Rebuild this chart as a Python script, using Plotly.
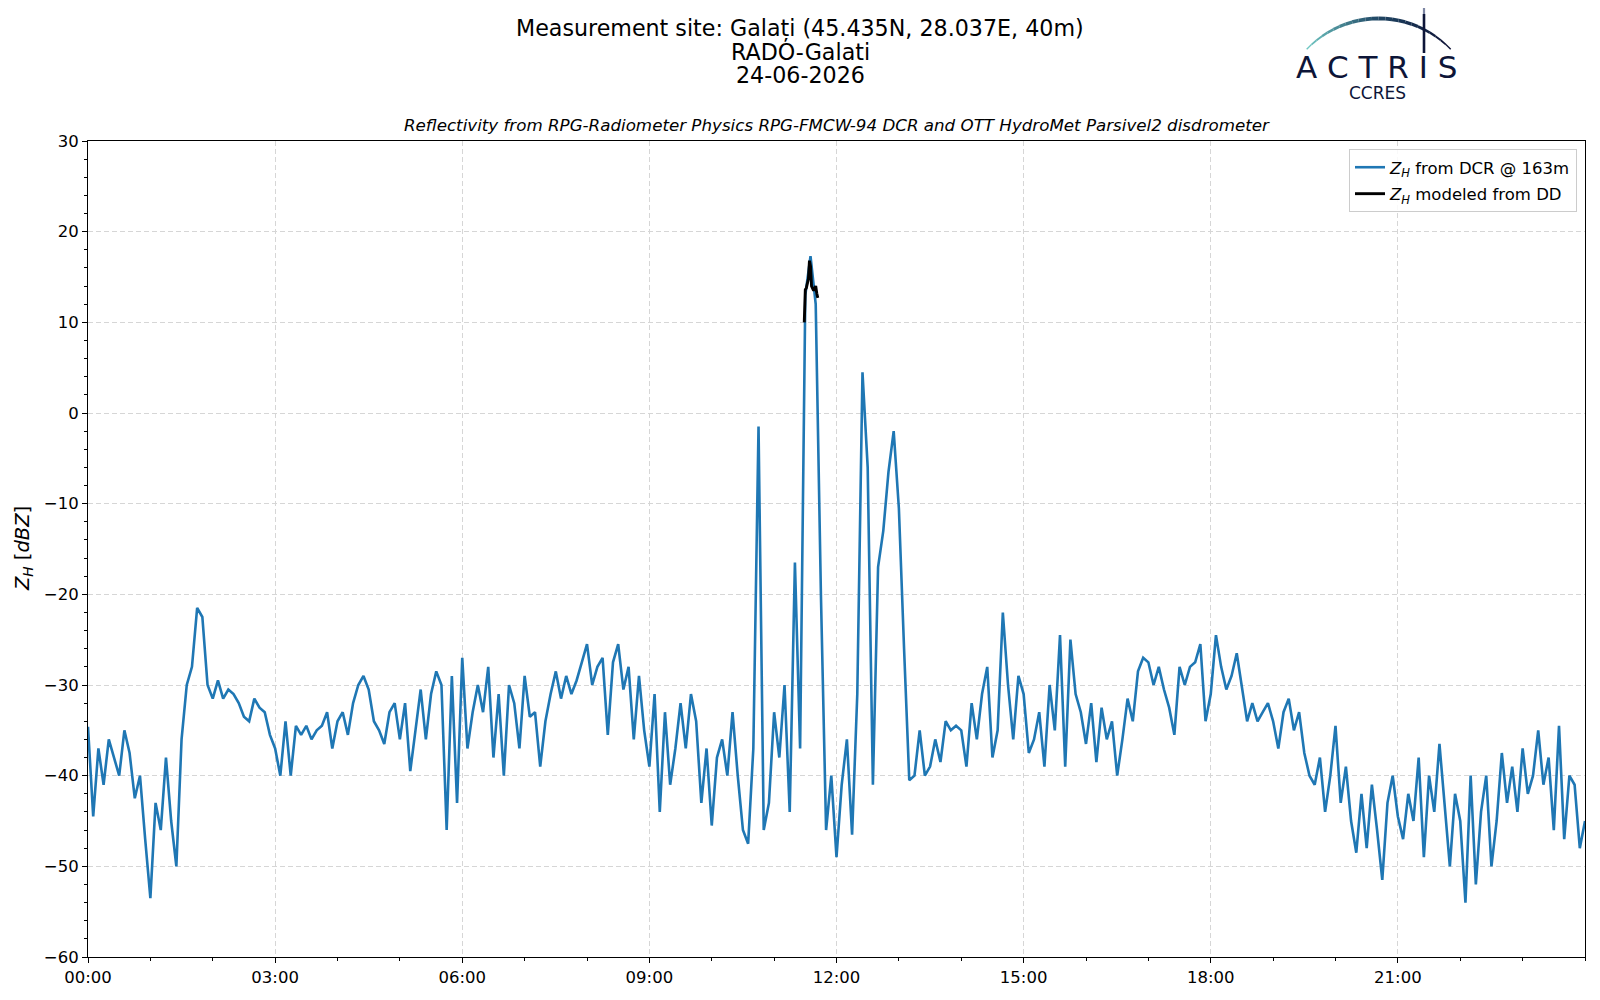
import numpy as np
import plotly.graph_objects as go

# Z_H from the DCR at 163 m, one value every 5 minutes, dBZ
dcr_00_03 = [-34.6, -44.5, -37.0, -41.0, -36.0, -38.0, -40.0, -35.0, -37.5, -42.5, -40.0, -47.0,
             -53.5, -43.0, -46.0, -38.0, -45.0, -50.0, -36.0, -30.0, -28.0, -21.5, -22.5, -30.0,
             -31.5, -29.5, -31.5, -30.5, -31.0, -32.0, -33.5, -34.0, -31.5, -32.5, -33.0, -35.5]
dcr_03_06 = [-37.0, -40.0, -34.0, -40.0, -34.5, -35.5, -34.5, -36.0, -35.0, -34.5, -33.0, -37.0,
             -34.0, -33.0, -35.5, -32.0, -30.0, -29.0, -30.5, -34.0, -35.0, -36.5, -33.0, -32.0,
             -36.0, -32.0, -39.5, -35.0, -30.5, -36.0, -31.0, -28.5, -30.0, -46.0, -29.0, -43.0]
dcr_06_09 = [-27.0, -37.0, -33.0, -30.0, -33.0, -28.0, -38.0, -31.0, -40.0, -30.0, -32.0, -37.0,
             -29.0, -33.5, -33.0, -39.0, -34.0, -31.0, -28.5, -31.5, -29.0, -31.0, -29.5, -27.5,
             -25.5, -30.0, -28.0, -27.0, -35.5, -27.5, -25.5, -30.5, -28.0, -36.0, -29.0, -35.0]
dcr_09_12 = [-39.0, -31.0, -44.0, -33.0, -41.0, -37.0, -32.0, -37.0, -31.0, -34.0, -43.0, -37.0,
             -45.5, -38.0, -36.0, -40.0, -33.0, -40.0, -46.0, -47.5, -37.0, -1.5, -46.0, -43.0,
             -33.0, -38.0, -30.0, -44.0, -16.5, -37.0, 13.0, 17.3, 12.0, -20.0, -46.0, -40.0]
dcr_12_15 = [-49.0, -41.0, -36.0, -46.5, -31.0, 4.5, -6.0, -41.0, -17.0, -13.0, -6.5, -2.0,
             -10.5, -26.0, -40.5, -40.0, -35.0, -40.0, -39.0, -36.0, -38.5, -34.0, -35.0, -34.5,
             -35.0, -39.0, -32.0, -36.0, -31.0, -28.0, -38.0, -35.0, -22.0, -30.0, -36.0, -29.0]
dcr_15_18 = [-31.0, -37.5, -36.0, -33.0, -39.0, -30.0, -35.0, -24.5, -39.0, -25.0, -31.0, -33.0,
             -36.5, -32.0, -38.5, -32.5, -36.0, -34.0, -40.0, -36.0, -31.5, -34.0, -28.5, -27.0,
             -27.5, -30.0, -28.0, -30.5, -32.5, -35.5, -28.0, -30.0, -28.0, -27.5, -25.5, -34.0]
dcr_18_21 = [-31.0, -24.5, -28.0, -30.5, -29.0, -26.5, -30.0, -34.0, -32.0, -34.0, -33.0, -32.0,
             -34.0, -37.0, -33.0, -31.5, -35.0, -33.0, -37.5, -40.0, -41.0, -38.0, -44.0, -40.0,
             -34.5, -43.0, -39.0, -45.0, -48.5, -42.0, -48.0, -41.0, -46.0, -51.5, -43.0, -40.0]
dcr_21_24 = [-44.5, -47.0, -42.0, -45.0, -38.0, -49.0, -40.0, -44.0, -36.5, -43.0, -50.0, -42.0,
             -45.0, -54.0, -40.0, -52.0, -44.0, -40.0, -50.0, -45.0, -37.5, -43.0, -39.0, -44.0,
             -37.0, -42.0, -40.0, -35.0, -41.0, -38.0, -46.0, -34.5, -47.0, -40.0, -41.0, -48.0,
             -45.0]

# Z_H modeled from the disdrometer (only during the rain around 11:30), minutes of day
dd_minutes = [689, 690, 691, 692, 693, 694, 695, 696, 697, 698, 699, 700, 701, 702]
dd_zh = [10.0, 13.6, 13.8, 14.5, 14.8, 16.8, 16.2, 14.0, 13.8, 13.5, 13.7, 14.0, 13.2, 12.7]

x_tickvals = [0, 180, 360, 540, 720, 900, 1080, 1260]
x_ticktext = ["00:00", "03:00", "06:00", "09:00", "12:00", "15:00", "18:00", "21:00"]

title_lines = ["Measurement site: Galați (45.435N, 28.037E, 40m)", "RADO-Galati", "24-06-2026"]
subtitle = "Reflectivity from RPG-Radiometer Physics RPG-FMCW-94 DCR and OTT HydroMet Parsivel2 disdrometer"

zh_dcr = dcr_00_03 + dcr_03_06 + dcr_06_09 + dcr_09_12 + dcr_12_15 + dcr_15_18 + dcr_18_21 + dcr_21_24
minutes = np.arange(len(zh_dcr)) * 5

# page geometry in pixels; the browser page adds an ~8 px body margin, so shift everything by OFF
W, H = 1600, 1000
OFF = 8
L, R, T, B = 88 - OFF, 15 + OFF, 141 - OFF, 43 + OFF
FONT = "DejaVu Sans"


def xp(px):
    return (px - OFF - L) / (W - L - R)


def yp(py):
    return (H - B - (py - OFF)) / (H - T - B)


fig = go.Figure()
fig.add_trace(go.Scatter(
    x=minutes, y=zh_dcr, mode="lines",
    line=dict(color="#1f77b4", width=2.6),
    name="<i>Z<sub>H</sub></i> from DCR @ 163m", legendgroup="dcr",
))
fig.add_trace(go.Scatter(
    x=dd_minutes, y=dd_zh, mode="lines",
    line=dict(color="black", width=2.9),
    name="<i>Z<sub>H</sub></i> modeled from DD", legendgroup="dd",
))

axis_common = dict(
    showline=True, linecolor="black", linewidth=1.1, mirror=True,
    ticks="outside", ticklen=5, tickwidth=1.1, tickcolor="black",
    showgrid=True, gridcolor="#d6d6d6", gridwidth=1, griddash="5px,3px",
    zeroline=False, tickfont=dict(family=FONT, size=16.5, color="black"),
)
fig.update_xaxes(
    range=[0, 1440], tickvals=x_tickvals, ticktext=x_ticktext,
    minor=dict(dtick=60, tick0=0, ticks="outside", ticklen=3, tickwidth=1, tickcolor="black", showgrid=False),
    **axis_common,
)
fig.update_yaxes(
    range=[-60, 30], dtick=10,
    minor=dict(dtick=2, tick0=0, ticks="outside", ticklen=3, tickwidth=1, tickcolor="black", showgrid=False),
    **axis_common,
)

annotations = []
for text, ypix in zip(title_lines, [28.6, 52.0, 75.5]):
    annotations.append(dict(text=text, x=xp(800), y=yp(ypix), xref="paper", yref="paper",
                            showarrow=False, xanchor="center", yanchor="middle",
                            font=dict(family=FONT, size=22.2, color="black")))
annotations.append(dict(text="<i>" + subtitle + "</i>", x=0.5, y=yp(125.5), xref="paper", yref="paper",
                        showarrow=False, xanchor="center", yanchor="middle",
                        font=dict(family=FONT, size=16.7, color="black")))
annotations.append(dict(text="<i>Z<sub>H</sub></i> [<i>dBZ</i>]", x=xp(23), y=0.5, xref="paper", yref="paper",
                        showarrow=False, textangle=-90, xanchor="center", yanchor="middle",
                        font=dict(family=FONT, size=19.5, color="black")))
# ACTRIS / CCRES logo
annotations.append(dict(text="A C T R I S", x=xp(1376), y=yp(67.5), xref="paper", yref="paper",
                        showarrow=False, xanchor="center", yanchor="middle",
                        font=dict(family=FONT, size=31, color="#0d1538")))
annotations.append(dict(text="CCRES", x=xp(1377), y=yp(93), xref="paper", yref="paper",
                        showarrow=False, xanchor="center", yanchor="middle",
                        font=dict(family=FONT, size=17, color="#0d1538")))

shapes = []
# arc of the logo, drawn in small pieces to fake the teal -> navy gradient
cx, cy, rad = 1378.7, 118.1, 99.6
n_seg = 24
ang = np.radians(np.linspace(136.3, 43.7, n_seg + 1))
c0, c1, c2 = np.array([110, 198, 194]), np.array([32, 70, 100]), np.array([12, 16, 52])
for i in range(n_seg):
    f = i / (n_seg - 1)
    col = c0 + (c1 - c0) * (f / 0.5) if f < 0.5 else c1 + (c2 - c1) * ((f - 0.5) / 0.5)
    wid = 1.2 + 2.6 * np.sin(np.pi * (i + 0.5) / n_seg)
    shapes.append(dict(type="line", xref="paper", yref="paper",
                       x0=xp(cx + rad * np.cos(ang[i])), y0=yp(cy - rad * np.sin(ang[i])),
                       x1=xp(cx + rad * np.cos(ang[i + 1])), y1=yp(cy - rad * np.sin(ang[i + 1])),
                       line=dict(color="rgb(%d,%d,%d)" % tuple(col.astype(int)), width=wid)))
shapes.append(dict(type="line", xref="paper", yref="paper", x0=xp(1424), y0=yp(2), x1=xp(1424), y1=yp(14),
                   line=dict(color="#7d86a3", width=2.2)))
shapes.append(dict(type="line", xref="paper", yref="paper", x0=xp(1424), y0=yp(14), x1=xp(1424), y1=yp(53),
                   line=dict(color="#0d1538", width=2.6)))

fig.update_layout(
    width=W, height=H,
    margin=dict(l=L, r=R, t=T, b=B),
    paper_bgcolor="white", plot_bgcolor="white",
    font=dict(family=FONT, color="black"),
    showlegend=True,
    legend=dict(x=xp(1577), y=yp(149), xanchor="right", yanchor="top", traceorder="grouped",
                bgcolor="rgba(255,255,255,0.85)", bordercolor="#cccccc", borderwidth=1,
                font=dict(family=FONT, size=16.5, color="black"), tracegroupgap=2),
    annotations=annotations,
    shapes=shapes,
)

fig.write_html("out.html")
